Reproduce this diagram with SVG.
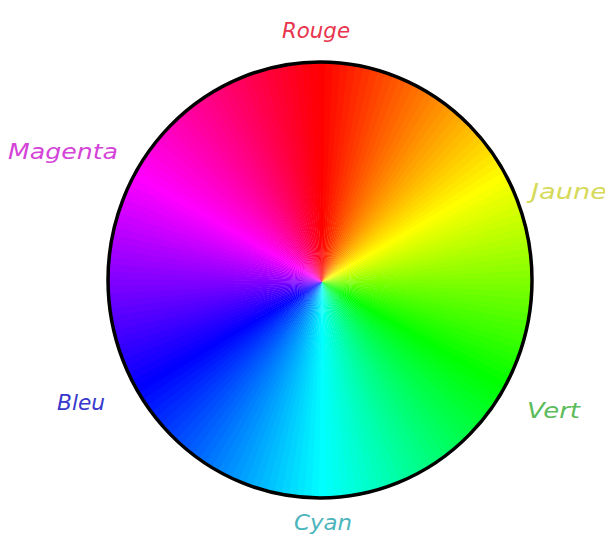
<svg xmlns="http://www.w3.org/2000/svg" xmlns:xlink="http://www.w3.org/1999/xlink" width="605" height="540" viewBox="0 0 605 540">
<style>
.lbl{font-family:"DejaVu Sans","Liberation Sans",sans-serif;font-style:italic;font-size:22px}
</style>
<defs>
<path id="w" d="M0 0L-5.45 -259.94A260 260 0 0 1 5.45 -259.94Z"/>
<clipPath id="cc"><ellipse cx="320" cy="280" rx="212" ry="218"/></clipPath>
</defs>
<rect width="605" height="540" fill="#fff"/>
<g id="wheel">
<g clip-path="url(#cc)"><g transform="translate(322 282)">
<use href="#w" transform="rotate(0)" fill="hsl(0,100%,50%)"/>
<use href="#w" transform="rotate(2)" fill="hsl(2,100%,50%)"/>
<use href="#w" transform="rotate(4)" fill="hsl(4,100%,50%)"/>
<use href="#w" transform="rotate(6)" fill="hsl(6,100%,50%)"/>
<use href="#w" transform="rotate(8)" fill="hsl(8,100%,50%)"/>
<use href="#w" transform="rotate(10)" fill="hsl(10,100%,50%)"/>
<use href="#w" transform="rotate(12)" fill="hsl(12,100%,50%)"/>
<use href="#w" transform="rotate(14)" fill="hsl(14,100%,50%)"/>
<use href="#w" transform="rotate(16)" fill="hsl(16,100%,50%)"/>
<use href="#w" transform="rotate(18)" fill="hsl(18,100%,50%)"/>
<use href="#w" transform="rotate(20)" fill="hsl(20,100%,50%)"/>
<use href="#w" transform="rotate(22)" fill="hsl(22,100%,50%)"/>
<use href="#w" transform="rotate(24)" fill="hsl(24,100%,50%)"/>
<use href="#w" transform="rotate(26)" fill="hsl(26,100%,50%)"/>
<use href="#w" transform="rotate(28)" fill="hsl(28,100%,50%)"/>
<use href="#w" transform="rotate(30)" fill="hsl(30,100%,50%)"/>
<use href="#w" transform="rotate(32)" fill="hsl(32,100%,50%)"/>
<use href="#w" transform="rotate(34)" fill="hsl(34,100%,50%)"/>
<use href="#w" transform="rotate(36)" fill="hsl(36,100%,50%)"/>
<use href="#w" transform="rotate(38)" fill="hsl(38,100%,50%)"/>
<use href="#w" transform="rotate(40)" fill="hsl(40,100%,50%)"/>
<use href="#w" transform="rotate(42)" fill="hsl(42,100%,50%)"/>
<use href="#w" transform="rotate(44)" fill="hsl(44,100%,50%)"/>
<use href="#w" transform="rotate(46)" fill="hsl(46,100%,50%)"/>
<use href="#w" transform="rotate(48)" fill="hsl(48,100%,50%)"/>
<use href="#w" transform="rotate(50)" fill="hsl(50,100%,50%)"/>
<use href="#w" transform="rotate(52)" fill="hsl(52,100%,50%)"/>
<use href="#w" transform="rotate(54)" fill="hsl(54,100%,50%)"/>
<use href="#w" transform="rotate(56)" fill="hsl(56,100%,50%)"/>
<use href="#w" transform="rotate(58)" fill="hsl(58,100%,50%)"/>
<use href="#w" transform="rotate(60)" fill="hsl(60,100%,50%)"/>
<use href="#w" transform="rotate(62)" fill="hsl(62,100%,50%)"/>
<use href="#w" transform="rotate(64)" fill="hsl(64,100%,50%)"/>
<use href="#w" transform="rotate(66)" fill="hsl(66,100%,50%)"/>
<use href="#w" transform="rotate(68)" fill="hsl(68,100%,50%)"/>
<use href="#w" transform="rotate(70)" fill="hsl(70,100%,50%)"/>
<use href="#w" transform="rotate(72)" fill="hsl(72,100%,50%)"/>
<use href="#w" transform="rotate(74)" fill="hsl(74,100%,50%)"/>
<use href="#w" transform="rotate(76)" fill="hsl(76,100%,50%)"/>
<use href="#w" transform="rotate(78)" fill="hsl(78,100%,50%)"/>
<use href="#w" transform="rotate(80)" fill="hsl(80,100%,50%)"/>
<use href="#w" transform="rotate(82)" fill="hsl(82,100%,50%)"/>
<use href="#w" transform="rotate(84)" fill="hsl(84,100%,50%)"/>
<use href="#w" transform="rotate(86)" fill="hsl(86,100%,50%)"/>
<use href="#w" transform="rotate(88)" fill="hsl(88,100%,50%)"/>
<use href="#w" transform="rotate(90)" fill="hsl(90,100%,50%)"/>
<use href="#w" transform="rotate(92)" fill="hsl(92,100%,50%)"/>
<use href="#w" transform="rotate(94)" fill="hsl(94,100%,50%)"/>
<use href="#w" transform="rotate(96)" fill="hsl(96,100%,50%)"/>
<use href="#w" transform="rotate(98)" fill="hsl(98,100%,50%)"/>
<use href="#w" transform="rotate(100)" fill="hsl(100,100%,50%)"/>
<use href="#w" transform="rotate(102)" fill="hsl(102,100%,50%)"/>
<use href="#w" transform="rotate(104)" fill="hsl(104,100%,50%)"/>
<use href="#w" transform="rotate(106)" fill="hsl(106,100%,50%)"/>
<use href="#w" transform="rotate(108)" fill="hsl(108,100%,50%)"/>
<use href="#w" transform="rotate(110)" fill="hsl(110,100%,50%)"/>
<use href="#w" transform="rotate(112)" fill="hsl(112,100%,50%)"/>
<use href="#w" transform="rotate(114)" fill="hsl(114,100%,50%)"/>
<use href="#w" transform="rotate(116)" fill="hsl(116,100%,50%)"/>
<use href="#w" transform="rotate(118)" fill="hsl(118,100%,50%)"/>
<use href="#w" transform="rotate(120)" fill="hsl(120,100%,50%)"/>
<use href="#w" transform="rotate(122)" fill="hsl(122,100%,50%)"/>
<use href="#w" transform="rotate(124)" fill="hsl(124,100%,50%)"/>
<use href="#w" transform="rotate(126)" fill="hsl(126,100%,50%)"/>
<use href="#w" transform="rotate(128)" fill="hsl(128,100%,50%)"/>
<use href="#w" transform="rotate(130)" fill="hsl(130,100%,50%)"/>
<use href="#w" transform="rotate(132)" fill="hsl(132,100%,50%)"/>
<use href="#w" transform="rotate(134)" fill="hsl(134,100%,50%)"/>
<use href="#w" transform="rotate(136)" fill="hsl(136,100%,50%)"/>
<use href="#w" transform="rotate(138)" fill="hsl(138,100%,50%)"/>
<use href="#w" transform="rotate(140)" fill="hsl(140,100%,50%)"/>
<use href="#w" transform="rotate(142)" fill="hsl(142,100%,50%)"/>
<use href="#w" transform="rotate(144)" fill="hsl(144,100%,50%)"/>
<use href="#w" transform="rotate(146)" fill="hsl(146,100%,50%)"/>
<use href="#w" transform="rotate(148)" fill="hsl(148,100%,50%)"/>
<use href="#w" transform="rotate(150)" fill="hsl(150,100%,50%)"/>
<use href="#w" transform="rotate(152)" fill="hsl(152,100%,50%)"/>
<use href="#w" transform="rotate(154)" fill="hsl(154,100%,50%)"/>
<use href="#w" transform="rotate(156)" fill="hsl(156,100%,50%)"/>
<use href="#w" transform="rotate(158)" fill="hsl(158,100%,50%)"/>
<use href="#w" transform="rotate(160)" fill="hsl(160,100%,50%)"/>
<use href="#w" transform="rotate(162)" fill="hsl(162,100%,50%)"/>
<use href="#w" transform="rotate(164)" fill="hsl(164,100%,50%)"/>
<use href="#w" transform="rotate(166)" fill="hsl(166,100%,50%)"/>
<use href="#w" transform="rotate(168)" fill="hsl(168,100%,50%)"/>
<use href="#w" transform="rotate(170)" fill="hsl(170,100%,50%)"/>
<use href="#w" transform="rotate(172)" fill="hsl(172,100%,50%)"/>
<use href="#w" transform="rotate(174)" fill="hsl(174,100%,50%)"/>
<use href="#w" transform="rotate(176)" fill="hsl(176,100%,50%)"/>
<use href="#w" transform="rotate(178)" fill="hsl(178,100%,50%)"/>
<use href="#w" transform="rotate(180)" fill="hsl(180,100%,50%)"/>
<use href="#w" transform="rotate(182)" fill="hsl(182,100%,50%)"/>
<use href="#w" transform="rotate(184)" fill="hsl(184,100%,50%)"/>
<use href="#w" transform="rotate(186)" fill="hsl(186,100%,50%)"/>
<use href="#w" transform="rotate(188)" fill="hsl(188,100%,50%)"/>
<use href="#w" transform="rotate(190)" fill="hsl(190,100%,50%)"/>
<use href="#w" transform="rotate(192)" fill="hsl(192,100%,50%)"/>
<use href="#w" transform="rotate(194)" fill="hsl(194,100%,50%)"/>
<use href="#w" transform="rotate(196)" fill="hsl(196,100%,50%)"/>
<use href="#w" transform="rotate(198)" fill="hsl(198,100%,50%)"/>
<use href="#w" transform="rotate(200)" fill="hsl(200,100%,50%)"/>
<use href="#w" transform="rotate(202)" fill="hsl(202,100%,50%)"/>
<use href="#w" transform="rotate(204)" fill="hsl(204,100%,50%)"/>
<use href="#w" transform="rotate(206)" fill="hsl(206,100%,50%)"/>
<use href="#w" transform="rotate(208)" fill="hsl(208,100%,50%)"/>
<use href="#w" transform="rotate(210)" fill="hsl(210,100%,50%)"/>
<use href="#w" transform="rotate(212)" fill="hsl(212,100%,50%)"/>
<use href="#w" transform="rotate(214)" fill="hsl(214,100%,50%)"/>
<use href="#w" transform="rotate(216)" fill="hsl(216,100%,50%)"/>
<use href="#w" transform="rotate(218)" fill="hsl(218,100%,50%)"/>
<use href="#w" transform="rotate(220)" fill="hsl(220,100%,50%)"/>
<use href="#w" transform="rotate(222)" fill="hsl(222,100%,50%)"/>
<use href="#w" transform="rotate(224)" fill="hsl(224,100%,50%)"/>
<use href="#w" transform="rotate(226)" fill="hsl(226,100%,50%)"/>
<use href="#w" transform="rotate(228)" fill="hsl(228,100%,50%)"/>
<use href="#w" transform="rotate(230)" fill="hsl(230,100%,50%)"/>
<use href="#w" transform="rotate(232)" fill="hsl(232,100%,50%)"/>
<use href="#w" transform="rotate(234)" fill="hsl(234,100%,50%)"/>
<use href="#w" transform="rotate(236)" fill="hsl(236,100%,50%)"/>
<use href="#w" transform="rotate(238)" fill="hsl(238,100%,50%)"/>
<use href="#w" transform="rotate(240)" fill="hsl(240,100%,50%)"/>
<use href="#w" transform="rotate(242)" fill="hsl(242,100%,50%)"/>
<use href="#w" transform="rotate(244)" fill="hsl(244,100%,50%)"/>
<use href="#w" transform="rotate(246)" fill="hsl(246,100%,50%)"/>
<use href="#w" transform="rotate(248)" fill="hsl(248,100%,50%)"/>
<use href="#w" transform="rotate(250)" fill="hsl(250,100%,50%)"/>
<use href="#w" transform="rotate(252)" fill="hsl(252,100%,50%)"/>
<use href="#w" transform="rotate(254)" fill="hsl(254,100%,50%)"/>
<use href="#w" transform="rotate(256)" fill="hsl(256,100%,50%)"/>
<use href="#w" transform="rotate(258)" fill="hsl(258,100%,50%)"/>
<use href="#w" transform="rotate(260)" fill="hsl(260,100%,50%)"/>
<use href="#w" transform="rotate(262)" fill="hsl(262,100%,50%)"/>
<use href="#w" transform="rotate(264)" fill="hsl(264,100%,50%)"/>
<use href="#w" transform="rotate(266)" fill="hsl(266,100%,50%)"/>
<use href="#w" transform="rotate(268)" fill="hsl(268,100%,50%)"/>
<use href="#w" transform="rotate(270)" fill="hsl(270,100%,50%)"/>
<use href="#w" transform="rotate(272)" fill="hsl(272,100%,50%)"/>
<use href="#w" transform="rotate(274)" fill="hsl(274,100%,50%)"/>
<use href="#w" transform="rotate(276)" fill="hsl(276,100%,50%)"/>
<use href="#w" transform="rotate(278)" fill="hsl(278,100%,50%)"/>
<use href="#w" transform="rotate(280)" fill="hsl(280,100%,50%)"/>
<use href="#w" transform="rotate(282)" fill="hsl(282,100%,50%)"/>
<use href="#w" transform="rotate(284)" fill="hsl(284,100%,50%)"/>
<use href="#w" transform="rotate(286)" fill="hsl(286,100%,50%)"/>
<use href="#w" transform="rotate(288)" fill="hsl(288,100%,50%)"/>
<use href="#w" transform="rotate(290)" fill="hsl(290,100%,50%)"/>
<use href="#w" transform="rotate(292)" fill="hsl(292,100%,50%)"/>
<use href="#w" transform="rotate(294)" fill="hsl(294,100%,50%)"/>
<use href="#w" transform="rotate(296)" fill="hsl(296,100%,50%)"/>
<use href="#w" transform="rotate(298)" fill="hsl(298,100%,50%)"/>
<use href="#w" transform="rotate(300)" fill="hsl(300,100%,50%)"/>
<use href="#w" transform="rotate(302)" fill="hsl(302,100%,50%)"/>
<use href="#w" transform="rotate(304)" fill="hsl(304,100%,50%)"/>
<use href="#w" transform="rotate(306)" fill="hsl(306,100%,50%)"/>
<use href="#w" transform="rotate(308)" fill="hsl(308,100%,50%)"/>
<use href="#w" transform="rotate(310)" fill="hsl(310,100%,50%)"/>
<use href="#w" transform="rotate(312)" fill="hsl(312,100%,50%)"/>
<use href="#w" transform="rotate(314)" fill="hsl(314,100%,50%)"/>
<use href="#w" transform="rotate(316)" fill="hsl(316,100%,50%)"/>
<use href="#w" transform="rotate(318)" fill="hsl(318,100%,50%)"/>
<use href="#w" transform="rotate(320)" fill="hsl(320,100%,50%)"/>
<use href="#w" transform="rotate(322)" fill="hsl(322,100%,50%)"/>
<use href="#w" transform="rotate(324)" fill="hsl(324,100%,50%)"/>
<use href="#w" transform="rotate(326)" fill="hsl(326,100%,50%)"/>
<use href="#w" transform="rotate(328)" fill="hsl(328,100%,50%)"/>
<use href="#w" transform="rotate(330)" fill="hsl(330,100%,50%)"/>
<use href="#w" transform="rotate(332)" fill="hsl(332,100%,50%)"/>
<use href="#w" transform="rotate(334)" fill="hsl(334,100%,50%)"/>
<use href="#w" transform="rotate(336)" fill="hsl(336,100%,50%)"/>
<use href="#w" transform="rotate(338)" fill="hsl(338,100%,50%)"/>
<use href="#w" transform="rotate(340)" fill="hsl(340,100%,50%)"/>
<use href="#w" transform="rotate(342)" fill="hsl(342,100%,50%)"/>
<use href="#w" transform="rotate(344)" fill="hsl(344,100%,50%)"/>
<use href="#w" transform="rotate(346)" fill="hsl(346,100%,50%)"/>
<use href="#w" transform="rotate(348)" fill="hsl(348,100%,50%)"/>
<use href="#w" transform="rotate(350)" fill="hsl(350,100%,50%)"/>
<use href="#w" transform="rotate(352)" fill="hsl(352,100%,50%)"/>
<use href="#w" transform="rotate(354)" fill="hsl(354,100%,50%)"/>
<use href="#w" transform="rotate(356)" fill="hsl(356,100%,50%)"/>
<use href="#w" transform="rotate(358)" fill="hsl(358,100%,50%)"/>
</g></g>
<ellipse cx="320" cy="280" rx="212" ry="218" fill="none" stroke="#000" stroke-width="3.5"/>
</g>
<g id="labels">
<text class="lbl" x="282" y="38" textLength="68" lengthAdjust="spacingAndGlyphs" fill="#e8344c">Rouge</text>
<text class="lbl" x="8" y="159" textLength="110" lengthAdjust="spacingAndGlyphs" fill="#d444d8">Magenta</text>
<text class="lbl" x="531" y="199" textLength="76" lengthAdjust="spacingAndGlyphs" fill="#d6da5a">Jaune</text>
<text class="lbl" x="57" y="410" textLength="48" lengthAdjust="spacingAndGlyphs" fill="#3838cc">Bleu</text>
<text class="lbl" x="527" y="418" textLength="53" lengthAdjust="spacingAndGlyphs" fill="#5cbc5c">Vert</text>
<text class="lbl" x="294" y="530" textLength="58" lengthAdjust="spacingAndGlyphs" fill="#4cb4bc">Cyan</text>
</g>
</svg>
